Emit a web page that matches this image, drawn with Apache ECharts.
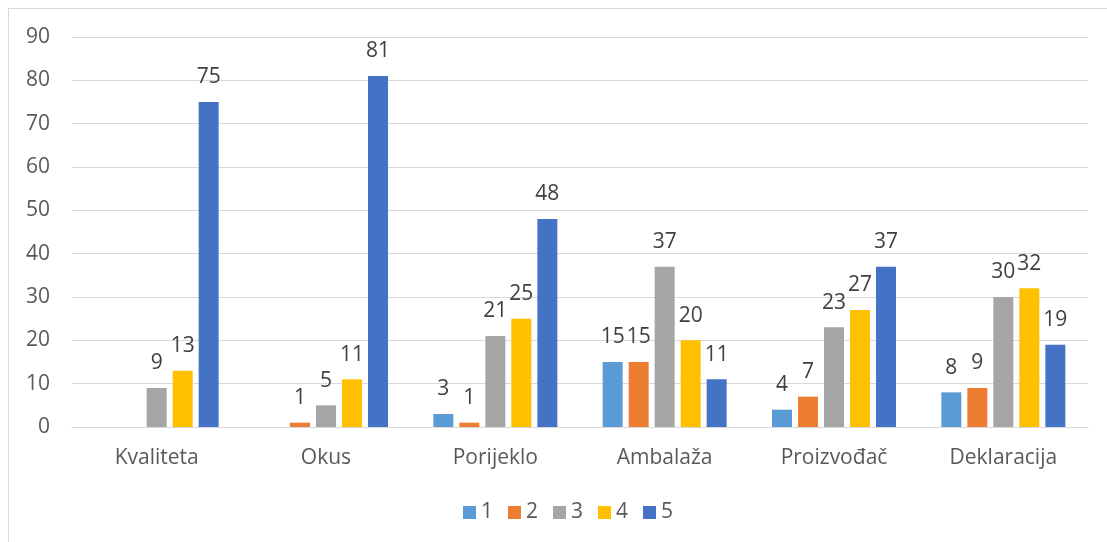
<!DOCTYPE html>
<html><head><meta charset="utf-8">
<script src="https://cdn.jsdelivr.net/npm/echarts@6/dist/echarts.min.js"></script>
<style>
html,body{margin:0;padding:0;background:#fff;}
#frame{position:absolute;left:8px;top:8px;width:1110px;height:545px;border:1px solid #d9d9d9;box-sizing:border-box;}
#c{position:absolute;left:0;top:0;width:1107px;height:542px;}
</style></head>
<body>
<div id="frame"></div>
<div id="c"></div>
<script>
const categories = ['Kvaliteta','Okus','Porijeklo','Ambalaža','Proizvođač','Deklaracija'];
const seriesNames = ['1','2','3','4','5'];
const s1 = [0,0,3,15,4,8];
const s2 = [0,1,1,15,7,9];
const s3 = [9,5,21,37,23,30];
const s4 = [13,11,25,20,27,32];
const s5 = [75,81,48,11,37,19];
const yTicks = [0,10,20,30,40,50,60,70,80,90];
const colors = ['#5B9BD5','#ED7D31','#A5A5A5','#FFC000','#4472C4'];
const FONT = 'Open Sans';
const values = [s1,s2,s3,s4,s5];
const chart = echarts.init(document.getElementById('c'));
chart.setOption({
  animation:false,
  textStyle:{fontFamily:FONT},
  color:colors,
  grid:{left:72,right:19,top:37,bottom:115,containLabel:false},
  legend:{
    data:seriesNames, left:458, top:497, itemWidth:13, itemHeight:13, itemGap:15,
    icon:'rect', textStyle:{fontFamily:FONT,fontSize:21,color:'#595959'}
  },
  xAxis:{
    type:'category', data:categories,
    axisLine:{lineStyle:{color:'#d9d9d9',width:1}},
    axisTick:{show:false},
    axisLabel:{fontFamily:FONT,fontSize:21,color:'#595959',margin:21}
  },
  yAxis:{
    type:'value', min:yTicks[0], max:yTicks[yTicks.length-1], interval:10,
    axisLine:{show:false}, axisTick:{show:false},
    splitLine:{lineStyle:{color:'#d9d9d9',width:1}},
    axisLabel:{fontFamily:FONT,fontSize:21,color:'#595959',margin:22}
  },
  series: seriesNames.map((n,i)=>({
    name:n, type:'bar', data:values[i], barWidth:20, barGap:'30%',
    label:{show:true,position:'top',distance:14,fontFamily:FONT,fontSize:21,color:'#404040',
      formatter:p=>p.value===0?'':String(p.value)}
  }))
});
</script>
</body></html>
